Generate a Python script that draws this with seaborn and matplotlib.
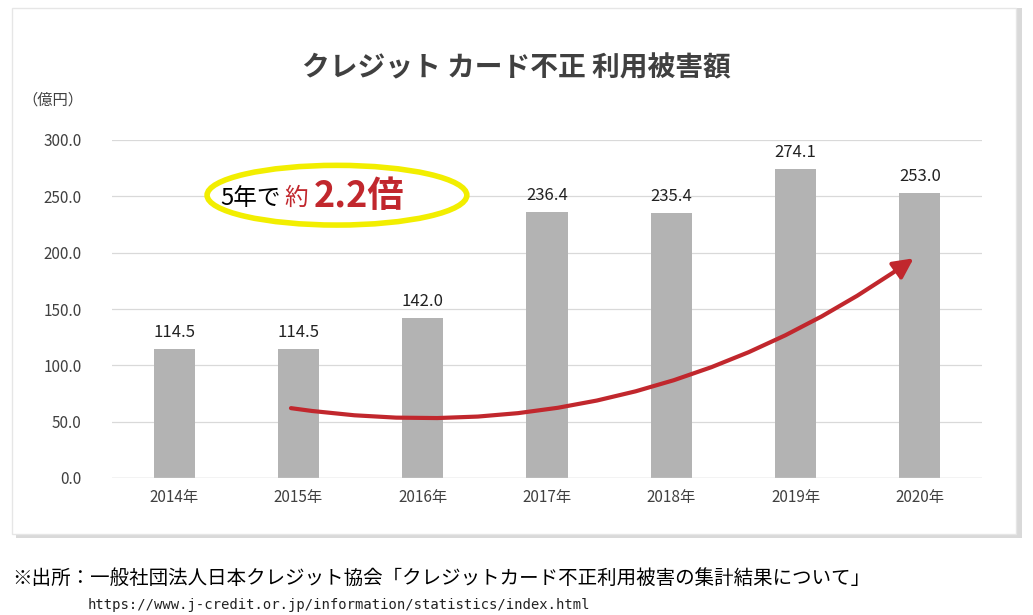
import matplotlib
matplotlib.use("Agg")
import matplotlib.pyplot as plt
import seaborn as sns
import pandas as pd
from matplotlib.patches import Rectangle, Ellipse

years = ["2014年", "2015年", "2016年", "2017年", "2018年", "2019年", "2020年"]
values = [114.5, 114.5, 142.0, 236.4, 235.4, 274.1, 253.0]
yticks = [0, 50, 100, 150, 200, 250, 300]

plt.rcParams["font.family"] = ["Noto Sans CJK JP"]
W, H = 1033, 615
fig = plt.figure(figsize=(W/100, H/100), dpi=100)
fig.patch.set_facecolor("white")

def fx(x): return x / W
def fy(y): return 1 - y / H

# panel with shadow
fig.patches.append(Rectangle((fx(16), fy(538)), fx(1006), 530/H, transform=fig.transFigure,
                             facecolor="#d9d9d9", edgecolor="none", zorder=-3))
fig.patches.append(Rectangle((fx(12), fy(534)), fx(1004), 526/H, transform=fig.transFigure,
                             facecolor="white", edgecolor="#e6e6e6", zorder=-2))

ax = fig.add_axes([fx(112), fy(478), fx(982-112), (478-140)/H])
ax.set_facecolor("none")
df = pd.DataFrame({"year": years, "value": values})
sns.barplot(data=df, x="year", y="value", color="#b3b3b3", width=0.33, ax=ax, saturation=1)
ax.set_xlim(-0.5, 6.5)
ax.set_ylim(0, 300)
ax.set_yticks(yticks)
ax.set_yticklabels([f"{v:.1f}" for v in yticks], fontsize=11, color="#404040")
ax.tick_params(axis="x", labelsize=11, colors="#404040", length=0, pad=8)
ax.tick_params(axis="y", length=0, pad=22)
ax.grid(axis="y", color="#d9d9d9", linewidth=0.9)
ax.set_axisbelow(True)
for s in ax.spines.values():
    s.set_visible(False)
ax.axhline(0, color="#d9d9d9", linewidth=1)
ax.set_xlabel(""); ax.set_ylabel("")
for i, v in enumerate(values):
    ax.text(i, v + 7, f"{v:.1f}", ha="center", va="bottom", fontsize=12, color="#222222")

# arrow
ax.annotate("", xy=(5.95, 195), xytext=(0.94, 62),
            arrowprops=dict(arrowstyle="-|>,head_length=1.2,head_width=0.6", color="#c1272d", lw=3,
                            connectionstyle="arc3,rad=0.2", shrinkA=0, shrinkB=0))

# ellipse label
ax.add_patch(Ellipse((1.31, 251), 2.09, 53, facecolor="white", edgecolor="#f2ee00", lw=4, zorder=5))
fig.text(fx(220), fy(198), "5年で", fontsize=17, color="black", va="center", ha="left", zorder=10)
fig.text(fx(284), fy(198), "約", fontsize=17, color="#c1272d", va="center", ha="left", zorder=10)
fig.text(fx(314), fy(196), "2.2倍", fontsize=26, color="#c1272d", va="center", ha="left",
         fontweight="bold", zorder=10)

fig.text(0.5, fy(68), "クレジット カード不正 利用被害額", ha="center", va="center",
         fontsize=20, fontweight="bold", color="#404040")
fig.text(fx(22), fy(100), "（億円）", ha="left", va="center", fontsize=11, color="#404040")
fig.text(fx(12), fy(578), "※出所：一般社団法人日本クレジット協会「クレジットカード不正利用被害の集計結果について」",
         ha="left", va="center", fontsize=14, color="black")
fig.text(fx(88), fy(605), "https://www.j-credit.or.jp/information/statistics/index.html",
         ha="left", va="center", fontsize=10, color="#222222", family="DejaVu Sans Mono")

fig.savefig("out.png", dpi=100)
